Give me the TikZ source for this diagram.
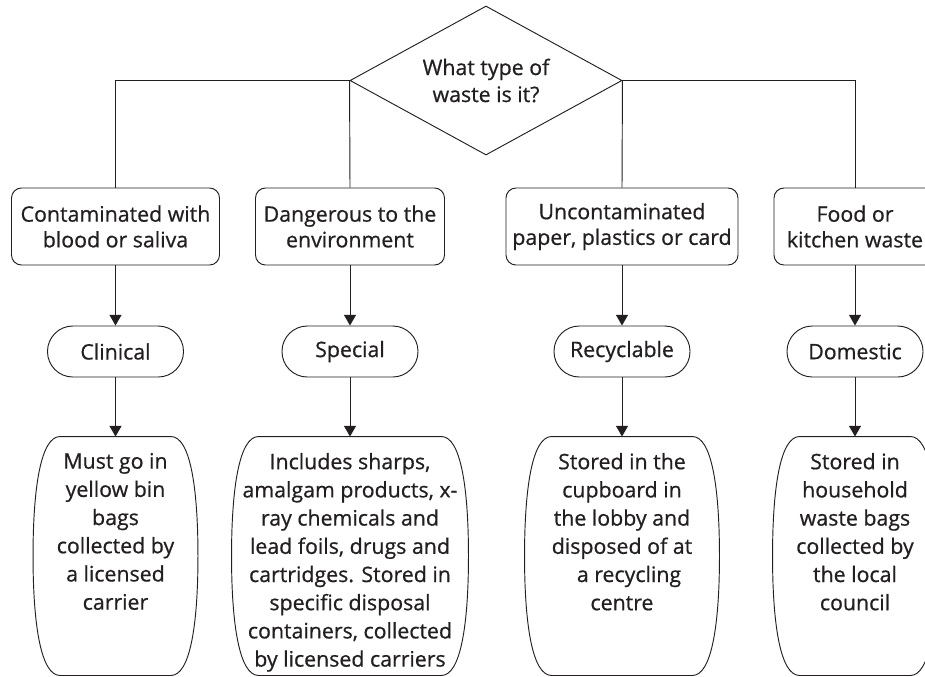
\documentclass[tikz,border=0pt]{standalone}
\usepackage{fontspec}
\setmainfont{Open Sans}[FakeBold=0.7]
\usetikzlibrary{shapes.geometric,arrows.meta,calc}
\definecolor{ink}{HTML}{231F20}

% outline of a tall box with bulging sides, drawn round an (invisible) node
\newcommand\bulgeoutline[1]{%
  \draw ($(#1.north west)+(27,0)$) -- ($(#1.north east)+(-27,0)$)
    .. controls ($(#1.north east)+(-8,0)$) and ($(#1.north east)+(0,50)$) .. (#1.east)
    .. controls ($(#1.south east)+(0,-50)$) and ($(#1.south east)+(-8,0)$) .. ($(#1.south east)+(-27,0)$)
    -- ($(#1.south west)+(27,0)$)
    .. controls ($(#1.south west)+(8,0)$) and ($(#1.south west)+(0,-50)$) .. (#1.west)
    .. controls ($(#1.north west)+(0,50)$) and ($(#1.north west)+(8,0)$) .. cycle;}

\begin{document}
\begin{tikzpicture}[x=0.75pt,y=-0.75pt,color=ink,line width=0.7pt,
  question/.style={diamond,draw,aspect=1.83,minimum width=204pt,minimum height=111.75pt,
    inner sep=0pt,align=center,font=\fontsize{16}{20.25}\selectfont},
  cond/.style={draw,rounded corners=7.5pt,minimum height=57.75pt,inner sep=0pt,
    align=center,font=\fontsize{16}{19.25}\selectfont},
  kind/.style={draw,rounded corners=19pt,minimum width=102pt,minimum height=38.25pt,
    inner sep=0pt,font=\fontsize{16}{19}\selectfont},
  frame/.style={minimum height=178.5pt,inner sep=0pt},
  note/.style={anchor=north,inner sep=0pt,align=center,font=\fontsize{16}{21.15}\selectfont},
  link/.style={-{Triangle[width=9pt,length=8pt]}}]

\path[use as bounding box,clip] (0,0) rectangle (925,676);

% question
\node[question] (q) at (486,80.5) {What type of\\waste is it?};

% conditions
\node[cond,minimum width=156pt]    (c1) at (115.5,226.5) {Contaminated with\\blood or saliva};
\node[cond,minimum width=141.75pt] (c2) at (350,226.5)   {Dangerous to the\\environment};
\node[cond,minimum width=174pt]    (c3) at (622,226.5)   {Uncontaminated\\paper, plastics or card};
\node[cond,minimum width=121.5pt]  (c4) at (855,226.5)   {Food or\\kitchen waste};

% waste categories
\node[kind] (k1) at (115.5,351.5) {Clinical};
\node[kind] (k2) at (350,351.5)   {Special};
\node[kind] (k3) at (622,351.5)   {Recyclable};
\node[kind] (k4) at (855,351.5)   {Domestic};

% handling notes
\node[frame,minimum width=123pt]   (b1) at (115.5,556) {};
\node[frame,minimum width=177pt]   (b2) at (350,556)   {};
\node[frame,minimum width=145.5pt] (b3) at (622,556)   {};
\node[frame,minimum width=123pt]   (b4) at (855,556)   {};
\bulgeoutline{b1}
\bulgeoutline{b2}
\bulgeoutline{b3}
\bulgeoutline{b4}

\node[note] (n1) at ($(b1.north)+(0,16)$) {Must go in\\yellow bin\\bags\\collected by\\a licensed\\carrier};
\node[note] (n2) at ($(b2.north)+(0,16)$) {Includes sharps,\\amalgam products, x-\\ray chemicals and\\lead foils, drugs and\\cartridges. Stored in\\specific disposal\\containers, collected\\by licensed carriers};
\node[note] (n3) at ($(b3.north)+(0,16)$) {Stored in the\\cupboard in\\the lobby and\\disposed of at\\\hspace*{10.5pt}a recycling\\centre};
\node[note] (n4) at ($(b4.north)+(0,16)$) {Stored in\\household\\waste bags\\collected by\\the local\\council};

% connectors
\draw (q.west) -| (c1.north);
\draw (q.west) -- (c2.north);
\draw (q.east) -- (c3.north);
\draw (q.east) -| (c4.north);

\foreach \i in {1,...,4}{
  \draw[link] (c\i.south) -- (k\i.north);
  \draw[link] (k\i.south) -- (b\i.north);
}
\end{tikzpicture}
\end{document}
